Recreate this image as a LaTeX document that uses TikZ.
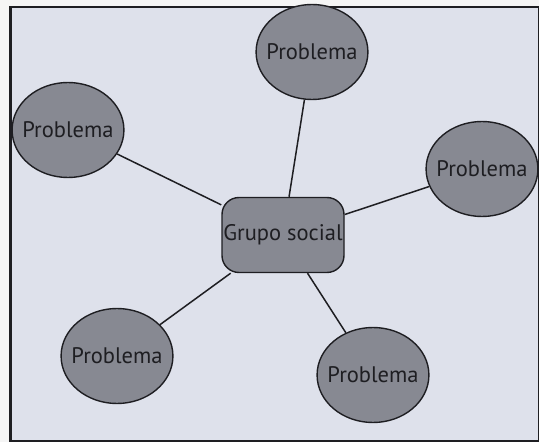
\documentclass[tikz,border=0pt]{standalone}
\usepackage{fontspec}
\setmainfont{PT Sans}
\usetikzlibrary{shapes.geometric}
\definecolor{paper}{RGB}{222,225,235}
\definecolor{bubble}{RGB}{135,137,146}
\definecolor{ink}{RGB}{30,30,34}
\begin{document}
\begin{tikzpicture}[x=10pt,y=10pt,
    problema/.style={ellipse,draw=ink,line width=1.4pt,fill=bubble,text=ink,minimum width=110pt,minimum height=95pt,inner xsep=-6pt,inner ysep=0pt,font=\fontsize{22.5}{26}\selectfont},
    grupo/.style={rectangle,rounded corners=17pt,draw=ink,line width=1.4pt,fill=bubble,text=ink,minimum width=122pt,minimum height=75pt,inner sep=0pt,font=\fontsize{22.5}{26}\selectfont},
    enlace/.style={ink,line width=1.5pt}]
        \useasboundingbox (0,0) rectangle (53.9,44.2);
        \fill[white!92!gray] (0,0) rectangle (53.9,44.2);
        \draw[ink,line width=2.6pt,fill=paper] (1.05,0.05) rectangle (53.9,43.5);

        \node[grupo] (G) at (28.3,20.7) {Grupo social};
        \node[problema] (P1) at (31.2,39.0) {Problema};
        \node[problema] (P2) at (6.8,31.2) {Problema};
        \node[problema] (P3) at (48.2,27.3) {Problema};
        \node[problema] (P4) at (11.7,8.6) {Problema};
        \node[problema] (P5) at (37.3,6.7) {Problema};

        \draw[enlace] (G) -- (P1);
        \draw[enlace] (G) -- (P2);
        \draw[enlace] (G) -- (P3);
        \draw[enlace] (G) -- (P4);
        \draw[enlace] (G) -- (P5);
      \end{tikzpicture}
\end{document}
